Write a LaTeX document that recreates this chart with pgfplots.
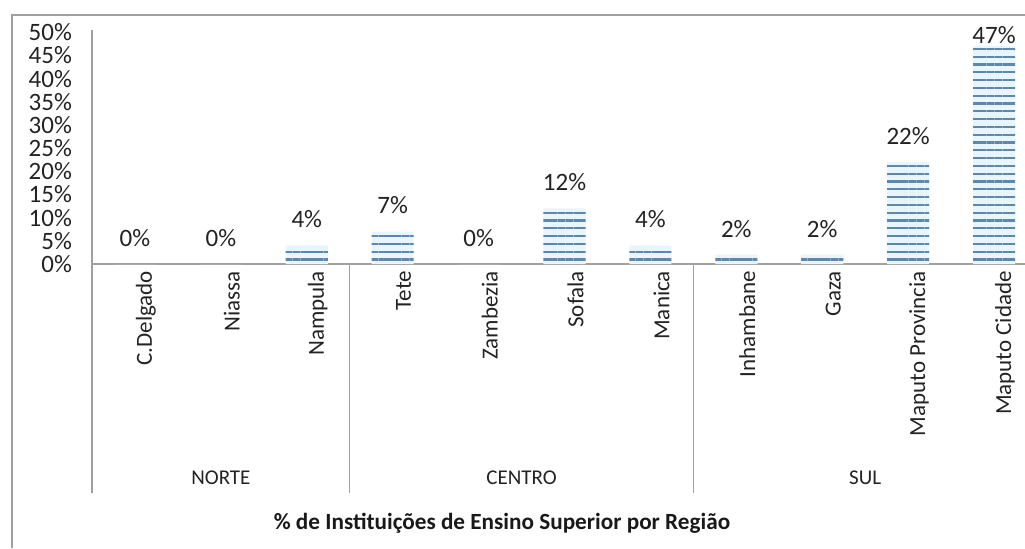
\documentclass[border=0pt]{standalone}
\usepackage{fontspec}
\setmainfont{Carlito}
\usepackage{pgfplots}
\pgfplotsset{compat=1.18}
\usetikzlibrary{patterns.meta}
\definecolor{barfill}{RGB}{232,245,252}
\definecolor{stripe}{RGB}{95,135,172}
\definecolor{axgray}{RGB}{160,160,160}
\definecolor{txt}{RGB}{35,35,35}
\pgfplotstableread{
x y off
0 0 13
1 0 13
2 4 13
3 7 13
4 0 13
5 12 13
6 4 13
7 2 13
8 2 13
9 22 13
10 47 5.5
}\datatable
\begin{document}
\begin{tikzpicture}
\useasboundingbox (0,0) rectangle (512.5pt,-274pt);
\draw[axgray, line width=0.7pt] (6pt,-274pt) -- (6pt,-7.5pt) -- (512.5pt,-7.5pt);
\begin{axis}[
  at={(46pt,-132pt)}, anchor=south west,
  scale only axis, width=466.5pt, height=117pt,
  xmin=-0.5, xmax=10.36, ymin=0, ymax=50.5,
  axis lines*=left,
  axis line style={axgray, line width=0.6pt},
  major tick length=0pt,
  clip=false,
  /pgf/number format/assume math mode=true,
  xtick={0,...,10},
  xticklabels={C.Delgado,Niassa,Nampula,Tete,Zambezia,Sofala,Manica,Inhambane,Gaza,Maputo Provincia,Maputo Cidade},
  xticklabel style={rotate=90, anchor=east, yshift=-5.5pt, font=\fontsize{11.5}{13}\selectfont, text=txt},
  ytick={0,5,...,50},
  yticklabel={\pgfmathprintnumber{\tick}\%},
  yticklabel style={font=\fontsize{12.5}{14}\selectfont, text=txt, xshift=-6.5pt},
]
\addplot[ybar, bar width=0.49, fill=barfill, draw=none,
  postaction={pattern={Lines[angle=0,distance=3.9pt,line width=1.1pt]},pattern color=stripe},
  visualization depends on={\thisrow{off} \as \labeloff},
  nodes near coords={\pgfmathprintnumber[fixed,precision=0]{\pgfplotspointmeta}\%},
  every node near coord/.append style={anchor=center, yshift=\labeloff pt, font=\fontsize{12.5}{14}\selectfont, text=txt},
] table[x=x, y=y] {\datatable};
\draw[axgray, line width=0.6pt] (axis cs:-0.5,0) -- (axis cs:-0.5,-49.4);
\draw[axgray, line width=0.6pt] (axis cs:2.5,0) -- (axis cs:2.5,-49.4);
\draw[axgray, line width=0.6pt] (axis cs:6.5,0) -- (axis cs:6.5,-49.4);
\node[font=\fontsize{10.5}{12}\selectfont, text=txt] at (axis cs:1,-46.1) {NORTE};
\node[font=\fontsize{10.5}{12}\selectfont, text=txt] at (axis cs:4.5,-46.1) {CENTRO};
\node[font=\fontsize{10.5}{12}\selectfont, text=txt] at (axis cs:8.5,-46.1) {SUL};
\end{axis}
\node[font=\bfseries\fontsize{11.6}{14}\selectfont, text=black!90] at (251pt,-261.5pt) {\% de Instituições de Ensino Superior por Região};
\end{tikzpicture}
\end{document}
